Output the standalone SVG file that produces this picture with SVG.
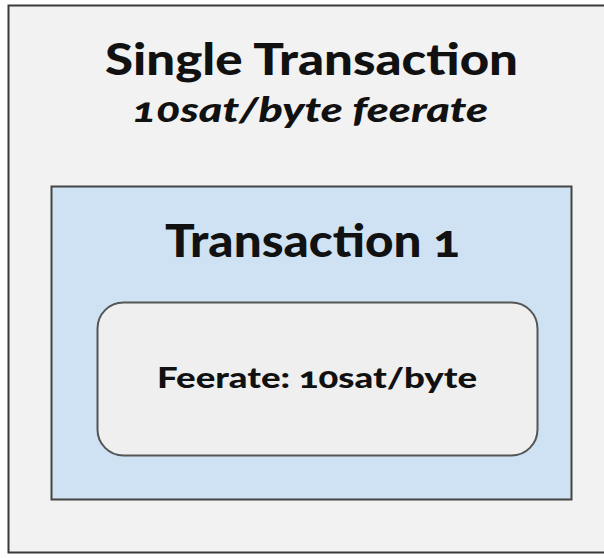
<svg xmlns="http://www.w3.org/2000/svg" width="604" height="558" viewBox="0 0 604 558">
<style>
text{font-family:Lato,"Open Sans","Liberation Sans",sans-serif;fill:#111;font-weight:900;font-variant-numeric:oldstyle-nums}
</style>
<rect width="604" height="558" fill="#ffffff"/>
<g id="outer">
<rect x="8.5" y="5.5" width="610" height="547" fill="#f2f2f2" stroke="#3a3a3a" stroke-width="2"/>
<text x="105" y="75" font-size="44" textLength="413" lengthAdjust="spacingAndGlyphs">Single Transaction</text>
<text x="132" y="122" font-size="35" font-style="italic" font-weight="bold" textLength="356" lengthAdjust="spacingAndGlyphs">10sat/byte feerate</text>
</g>
<g id="tx1">
<rect x="51.5" y="186.5" width="520" height="313" fill="#cfe2f3" stroke="#444" stroke-width="2"/>
<text x="165" y="257" font-size="46" textLength="295" lengthAdjust="spacingAndGlyphs">Transaction 1</text>
</g>
<g id="feerate">
<rect x="97.5" y="302.5" width="440" height="153" rx="26" fill="#efefef" stroke="#555" stroke-width="2"/>
<text x="157" y="388" font-size="28" textLength="320" lengthAdjust="spacingAndGlyphs">Feerate: 10sat/byte</text>
</g>
<g id="connectors"/>
</svg>
